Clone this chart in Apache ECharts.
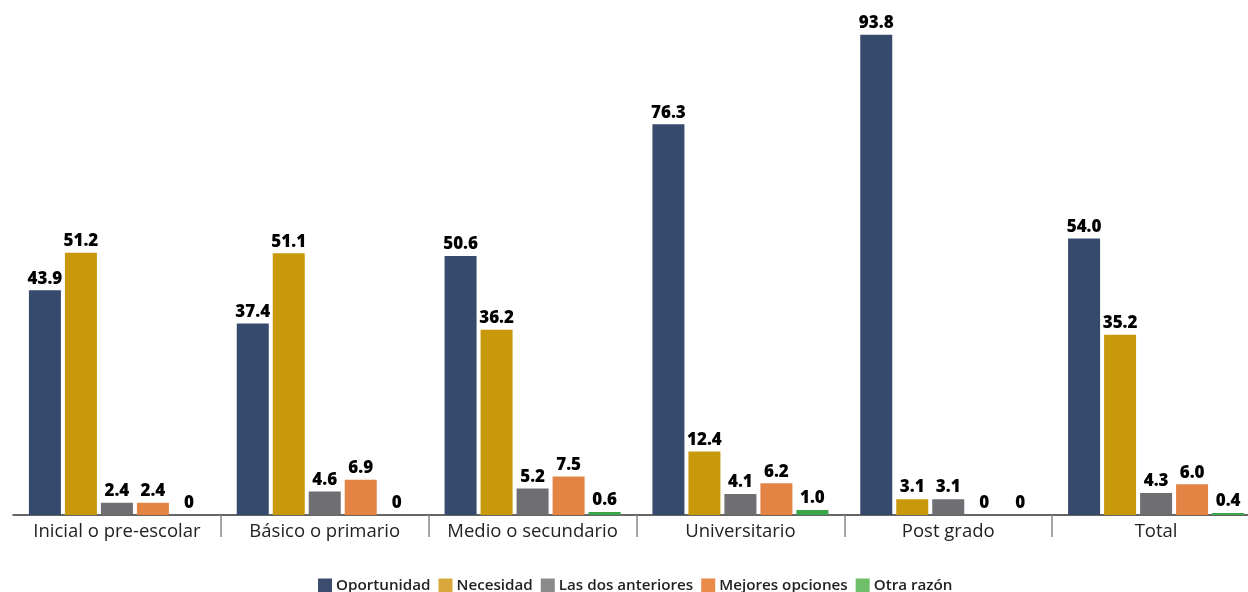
<!DOCTYPE html>
<html><head><meta charset="utf-8">
<script src="https://cdn.jsdelivr.net/npm/echarts@6/dist/echarts.min.js"></script>
<style>html,body{margin:0;padding:0;background:#fff}#c{width:1248px;height:592px}</style>
</head><body><div id="c"></div>
<script>
const categories = ['Inicial o pre-escolar','Básico o primario','Medio o secundario','Universitario','Post grado','Total'];
const seriesNames = ['Oportunidad','Necesidad','Las dos anteriores','Mejores opciones','Otra razón'];
const oportunidad = [43.9, 37.4, 50.6, 76.3, 93.8, 54.0];
const necesidad = [51.2, 51.1, 36.2, 12.4, 3.1, 35.2];
const lasDos = [2.4, 4.6, 5.2, 4.1, 3.1, 4.3];
const mejores = [2.4, 6.9, 7.5, 6.2, 0, 6.0];
const otra = [0, 0, 0.6, 1.0, 0, 0.4];
const values = [oportunidad, necesidad, lasDos, mejores, otra];
const colors = ['#364A6B','#C8990A','#6E6E73','#E38444','#3AA64A'];
const legendColors = ['#3A4D6E','#D8A83C','#8A8A8A','#E88A48','#6FBF6A'];
const FONT = '"Open Sans", "Noto Sans", sans-serif';

const chart = echarts.init(document.getElementById('c'));
chart.setOption({
  animation: false,
  grid: { left: 13, width: 1247, top: 3, bottom: 77, containLabel: false, outerBoundsMode: 'none' },
  legend: {
    top: 573, left: 313, itemWidth: 14, itemHeight: 14, itemGap: 8,
    icon: 'rect',
    textStyle: { fontFamily: FONT, fontSize: 15.2, fontWeight: 600, color: '#222', padding: [0,0,0,-1] },
    data: seriesNames.map((n, i) => ({ name: n, itemStyle: { color: legendColors[i] } }))
  },
  xAxis: {
    type: 'category', data: categories,
    axisLine: { show: true, lineStyle: { color: '#333', width: 1.5 } },
    axisTick: { show: true, length: 22, interval: (i) => i !== 0, lineStyle: { color: '#888', width: 1.5 } },
    axisLabel: { interval: 0, hideOverlap: false, fontFamily: FONT, fontSize: 18.5, color: '#222', margin: 7 }
  },
  yAxis: { type: 'value', min: 0, max: 100, show: false, splitLine: { show: false } },
  series: seriesNames.map((n, i) => ({
    name: n, type: 'bar', data: values[i], barWidth: 32, barGap: '12.5%',
    itemStyle: { color: colors[i] },
    label: {
      show: true, position: 'top', distance: 3,
      fontFamily: FONT, fontSize: 17, fontWeight: 800, color: '#000',
      formatter: p => p.value === 0 ? '0' : p.value.toFixed(1)
    }
  }))
});
</script></body></html>
